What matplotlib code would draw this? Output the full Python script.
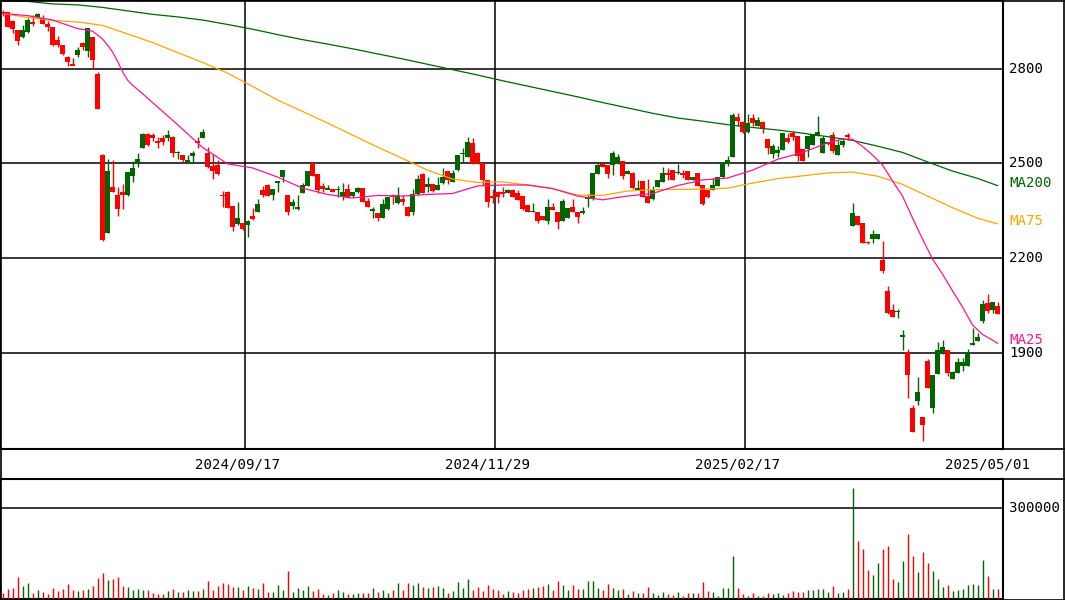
import matplotlib
matplotlib.use("Agg")
import matplotlib.pyplot as plt
from matplotlib.lines import Line2D
from matplotlib.transforms import blended_transform_factory
import numpy as np

# ---- daily OHLC (200 sessions, oldest first) ----
open_ = [2980, 2978, 2951, 2923, 2901, 2917, 2948, 2963, 2960, 2942,
         2933, 2891, 2875, 2836, 2813, 2843, 2880, 2857, 2899, 2783,
         2527, 2279, 2425, 2400, 2411, 2400, 2460, 2504, 2550, 2593,
         2590, 2571, 2580, 2582, 2585, 2532, 2527, 2501, 2525, 2569,
         2582, 2534, 2493, 2495, 2400, 2411, 2365, 2308, 2311, 2305,
         2334, 2347, 2416, 2432, 2400, 2440, 2458, 2400, 2367, 2355,
         2408, 2430, 2501, 2467, 2429, 2418, 2419, 2416, 2395, 2419,
         2397, 2409, 2421, 2381, 2351, 2342, 2328, 2355, 2397, 2374,
         2388, 2363, 2347, 2403, 2467, 2425, 2435, 2416, 2437, 2476,
         2442, 2479, 2530, 2522, 2566, 2534, 2501, 2448, 2395, 2409,
         2409, 2408, 2416, 2406, 2397, 2369, 2347, 2346, 2334, 2319,
         2361, 2347, 2319, 2328, 2361, 2346, 2342, 2387, 2387, 2467,
         2498, 2495, 2495, 2498, 2508, 2467, 2471, 2419, 2445, 2397,
         2387, 2427, 2442, 2467, 2479, 2469, 2469, 2476, 2448, 2469,
         2432, 2416, 2416, 2430, 2456, 2498, 2521, 2648, 2632, 2599,
         2645, 2620, 2632, 2578, 2529, 2532, 2543, 2582, 2597, 2587,
         2545, 2545, 2558, 2588, 2534, 2563, 2590, 2527, 2559, 2588,
         2302, 2334, 2311, 2252, 2260, 2261, 2194, 2096, 2036, 2031,
         1952, 1903, 1725, 1749, 1697, 1875, 1727, 1834, 1899, 1910,
         1818, 1838, 1859, 1859, 1928, 1939, 2003, 2058, 2036, 2049]
high = [2986, 2979, 2954, 2923, 2938, 2960, 2970, 2975, 2970, 2952,
        2933, 2903, 2875, 2840, 2834, 2868, 2885, 2928, 2901, 2791,
        2530, 2513, 2511, 2425, 2435, 2474, 2508, 2534, 2595, 2595,
        2597, 2585, 2590, 2606, 2587, 2538, 2528, 2527, 2540, 2585,
        2609, 2553, 2530, 2511, 2414, 2413, 2365, 2379, 2313, 2322,
        2358, 2388, 2430, 2434, 2420, 2443, 2481, 2401, 2387, 2400,
        2437, 2477, 2503, 2468, 2437, 2432, 2420, 2429, 2439, 2435,
        2411, 2427, 2422, 2391, 2361, 2343, 2388, 2395, 2402, 2425,
        2400, 2365, 2418, 2464, 2469, 2456, 2436, 2456, 2485, 2477,
        2479, 2528, 2548, 2583, 2580, 2536, 2502, 2449, 2418, 2412,
        2427, 2418, 2418, 2416, 2398, 2370, 2376, 2347, 2335, 2387,
        2375, 2348, 2388, 2360, 2387, 2347, 2361, 2403, 2470, 2502,
        2502, 2496, 2539, 2530, 2509, 2478, 2473, 2448, 2446, 2450,
        2429, 2449, 2488, 2485, 2480, 2498, 2479, 2477, 2457, 2470,
        2433, 2417, 2453, 2457, 2502, 2524, 2661, 2661, 2633, 2657,
        2657, 2648, 2633, 2579, 2562, 2555, 2598, 2596, 2603, 2588,
        2546, 2588, 2593, 2651, 2588, 2569, 2599, 2574, 2580, 2597,
        2376, 2335, 2312, 2256, 2290, 2278, 2255, 2112, 2055, 2039,
        1973, 1913, 1736, 1823, 1698, 1881, 1832, 1934, 1941, 1911,
        1842, 1885, 1885, 1913, 1980, 1964, 2068, 2087, 2062, 2061]
low = [2967, 2932, 2914, 2875, 2897, 2912, 2935, 2960, 2941, 2920,
       2873, 2870, 2843, 2810, 2811, 2836, 2859, 2836, 2798, 2673,
       2256, 2279, 2409, 2334, 2356, 2398, 2442, 2490, 2548, 2556,
       2571, 2550, 2557, 2572, 2521, 2513, 2501, 2500, 2501, 2550,
       2580, 2487, 2451, 2465, 2361, 2358, 2287, 2306, 2289, 2268,
       2321, 2346, 2393, 2396, 2385, 2411, 2440, 2337, 2355, 2353,
       2406, 2428, 2459, 2406, 2409, 2418, 2409, 2395, 2385, 2391,
       2395, 2408, 2377, 2361, 2328, 2319, 2327, 2353, 2371, 2372,
       2369, 2333, 2337, 2401, 2406, 2411, 2411, 2415, 2436, 2435,
       2440, 2477, 2506, 2521, 2499, 2499, 2432, 2361, 2374, 2376,
       2394, 2406, 2393, 2383, 2354, 2345, 2346, 2311, 2320, 2308,
       2352, 2293, 2318, 2327, 2346, 2313, 2341, 2363, 2386, 2466,
       2489, 2455, 2464, 2497, 2451, 2466, 2420, 2418, 2394, 2374,
       2385, 2426, 2441, 2448, 2447, 2468, 2454, 2447, 2447, 2429,
       2370, 2392, 2415, 2429, 2455, 2492, 2520, 2619, 2598, 2598,
       2620, 2619, 2596, 2530, 2516, 2520, 2542, 2566, 2574, 2509,
       2508, 2521, 2557, 2587, 2532, 2560, 2534, 2526, 2551, 2574,
       2302, 2304, 2248, 2245, 2249, 2260, 2155, 2025, 2014, 2010,
       1910, 1757, 1650, 1736, 1623, 1790, 1710, 1833, 1898, 1828,
       1817, 1837, 1843, 1858, 1927, 1938, 1996, 2028, 2028, 2023]
close = [2973, 2933, 2925, 2889, 2923, 2954, 2941, 2973, 2941, 2933,
         2875, 2875, 2847, 2822, 2811, 2859, 2870, 2928, 2828, 2673,
         2258, 2476, 2409, 2356, 2400, 2472, 2485, 2514, 2593, 2559,
         2580, 2566, 2569, 2590, 2532, 2537, 2511, 2511, 2534, 2567,
         2601, 2490, 2477, 2467, 2398, 2360, 2300, 2328, 2293, 2319,
         2324, 2372, 2400, 2398, 2419, 2442, 2480, 2346, 2379, 2362,
         2432, 2476, 2461, 2416, 2418, 2420, 2411, 2419, 2409, 2392,
         2409, 2421, 2379, 2363, 2353, 2328, 2372, 2393, 2395, 2400,
         2379, 2335, 2402, 2451, 2408, 2435, 2414, 2432, 2458, 2448,
         2469, 2527, 2532, 2567, 2501, 2501, 2448, 2379, 2393, 2395,
         2406, 2416, 2395, 2385, 2356, 2347, 2349, 2318, 2321, 2361,
         2353, 2316, 2381, 2358, 2347, 2332, 2350, 2395, 2469, 2495,
         2490, 2467, 2534, 2520, 2460, 2477, 2422, 2421, 2395, 2376,
         2416, 2448, 2469, 2465, 2448, 2474, 2466, 2448, 2456, 2430,
         2371, 2393, 2432, 2456, 2501, 2511, 2653, 2634, 2599, 2629,
         2629, 2638, 2608, 2550, 2555, 2543, 2597, 2567, 2585, 2524,
         2509, 2587, 2592, 2599, 2582, 2566, 2540, 2559, 2572, 2585,
         2344, 2305, 2249, 2249, 2277, 2277, 2160, 2026, 2015, 2033,
         1957, 1831, 1651, 1776, 1672, 1791, 1831, 1910, 1918, 1836,
         1841, 1871, 1871, 1904, 1931, 1952, 2055, 2034, 2061, 2024]
volume = [18600, 31800, 35000, 71200, 41600, 51500, 18600, 28500, 21900, 15300,
          35000, 25200, 31800, 48200, 28500, 25200, 28500, 31800, 41600, 67900,
          84300, 61300, 64600, 71200, 41600, 38300, 28500, 31800, 28500, 28500,
          18600, 15300, 15300, 25200, 31800, 21900, 21900, 28500, 25200, 25200,
          31800, 58000, 28500, 41600, 51500, 48200, 38300, 38300, 28500, 41600,
          35000, 31800, 51500, 21900, 21900, 44900, 28500, 90900, 21900, 35000,
          28500, 41600, 25200, 31800, 15300, 12000, 18600, 28500, 21900, 15300,
          15300, 18600, 18600, 18600, 35000, 21900, 28500, 18600, 28500, 51500,
          28500, 51500, 44900, 51500, 38300, 35000, 38300, 41600, 35000, 18600,
          25200, 54700, 35000, 64600, 28500, 38300, 25200, 44900, 31800, 28500,
          16500, 26500, 23200, 19900, 29800, 33100, 36400, 39700, 43000, 49600,
          29800, 59600, 46300, 29800, 46300, 33100, 33100, 59600, 59600, 36400,
          29800, 49600, 36400, 29800, 33100, 16500, 26500, 19900, 19900, 39700,
          19900, 13200, 23200, 16500, 13200, 23200, 9900, 19900, 19900, 19900,
          56300, 26500, 23200, 9900, 36400, 36400, 142300, 36400, 16500, 9900,
          19900, 9900, 9900, 19900, 16500, 19900, 13200, 19900, 26500, 23200,
          23200, 29800, 29800, 33100, 33100, 23200, 43000, 19900, 23200, 33100,
          364000, 191900, 165500, 96000, 79400, 119100, 165500, 175400, 66200, 56300,
          125700, 215100, 142300, 89300, 155500, 119100, 92700, 66200, 39700, 46300,
          26500, 29800, 33100, 46300, 49600, 46300, 129100, 76100, 33100, 33100]

# ---- moving averages ----
# 75- and 200-day lines sampled every 5 sessions plus the last one
ma_index = list(range(0, 200, 5)) + [199]
ma75 = [2975, 2962, 2953, 2948, 2937, 2910, 2883, 2851, 2820, 2786,
        2744, 2701, 2665, 2628, 2590, 2552, 2516, 2479, 2451, 2440,
        2442, 2432, 2420, 2400, 2399, 2413, 2417, 2418, 2419, 2422,
        2438, 2452, 2461, 2470, 2473, 2460, 2434, 2397, 2360, 2327, 2309]
ma200 = [3014, 3013, 3005, 3002, 2994, 2983, 2972, 2964, 2954, 2940,
         2925, 2908, 2892, 2878, 2863, 2847, 2831, 2814, 2797, 2780,
         2762, 2745, 2728, 2711, 2693, 2676, 2659, 2644, 2634, 2623,
         2614, 2606, 2596, 2585, 2573, 2555, 2535, 2505, 2476, 2453, 2430]
# 25-day line, sampled more densely where it bends sharply
ma25_index = [0, 5, 10, 15, 18, 20, 21, 22, 23, 24, 25, 26, 28, 30,
              35, 40, 45, 50, 55, 60, 65, 70, 75, 80, 85, 90, 95, 100,
              105, 110, 115, 120, 125, 130, 135, 140, 145, 150, 155, 160,
              165, 168, 170, 172, 174, 176, 178, 180, 182, 184, 186, 188,
              190, 192, 194, 196, 198, 199]
ma25 = [2975, 2968, 2954, 2927, 2919, 2894, 2875, 2853, 2824, 2791, 2764, 2748, 2721, 2693,
        2623, 2551, 2499, 2486, 2457, 2422, 2402, 2391, 2399, 2397, 2402, 2405, 2429, 2432,
        2432, 2421, 2397, 2385, 2397, 2405, 2430, 2448, 2454, 2479, 2513, 2535,
        2565, 2577, 2577, 2554, 2527, 2495, 2445, 2397, 2328, 2261, 2198, 2150,
        2097, 2046, 1989, 1959, 1941, 1931]

price_ticks = [1900, 2200, 2500, 2800]
volume_ticks = [300000]
date_index = [49, 99, 149, 199]
date_labels = ["2024/09/17", "2024/11/29", "2025/02/17", "2025/05/01"]

# ---- style ----
RED = "#ff0000"
GREEN = "#006400"
C_MA25 = "#ff1493"
C_MA75 = "#ffa500"
C_MA200 = "#006400"
FONT = "DejaVu Sans Mono"
FS = 10.2

W, H = 1065, 600
fig = plt.figure(figsize=(W / 100, H / 100), dpi=100)
fig.patch.set_facecolor("white")


def fx(px):
    return px / W


def fy(py):
    return 1 - py / H


ax = fig.add_axes([0, fy(449), fx(1003), 449 / H])
axv = fig.add_axes([0, fy(599), fx(1003), 120 / H])

o = np.array(open_, float)
h = np.array(high, float)
l = np.array(low, float)
c = np.array(close, float)
v = np.array(volume, float)
x = np.arange(len(c))
up = c >= o
cols = np.where(up, GREEN, RED)

# price panel
for t in price_ticks:
    ax.axhline(t, color="black", lw=1.1, zorder=1)
for d in date_index[:-1]:
    ax.axvline(d - 0.5, color="black", lw=1.1, zorder=1)

ax.vlines(x, l, h, colors=cols, lw=1.0, zorder=3)
body = np.abs(c - o)
min_body = 5.0
mid = (c + o) / 2
body_h = np.maximum(body, min_body)
body_bot = np.where(body < min_body, mid - min_body / 2, np.minimum(o, c))
ax.bar(x, body_h, bottom=body_bot, width=0.92, color=cols, linewidth=0, zorder=4)

ax.plot(ma_index, ma200, color=C_MA200, lw=0.9, zorder=5)
ax.plot(ma_index, ma75, color=C_MA75, lw=0.9, zorder=5)
ax.plot(ma25_index, ma25, color=C_MA25, lw=0.9, zorder=5)

ax.set_xlim(-0.5, 200.1)
ax.set_ylim(1596.5, 3017.4)
ax.set_xticks([])
ax.set_yticks([])
for s in ax.spines.values():
    s.set_linewidth(1.5)
    s.set_color("black")

tr = blended_transform_factory(fig.transFigure, ax.transData)
for t in price_ticks:
    ax.text(fx(1009), t, str(t), transform=tr, fontsize=FS, family=FONT,
            va="center", ha="left", color="black")
# MA names sit just above the end of each line
lab_lift = 9
ax.text(fx(1009), ma200[-1] + lab_lift, "MA200", transform=tr, fontsize=FS,
        family=FONT, va="center", ha="left", color=C_MA200)
ax.text(fx(1009), ma75[-1] + lab_lift, "MA75", transform=tr, fontsize=FS,
        family=FONT, va="center", ha="left", color=C_MA75)
ax.text(fx(1009), ma25[-1] + lab_lift, "MA25", transform=tr, fontsize=FS,
        family=FONT, va="center", ha="left", color=C_MA25)

# date labels
trd = blended_transform_factory(ax.transData, fig.transFigure)
for d, lab in zip(date_index, date_labels):
    ax.text(d - 2, fy(464), lab, transform=trd, fontsize=FS, family=FONT,
            ha="center", va="center", color="black", clip_on=False)

# volume panel
for t in volume_ticks:
    axv.axhline(t, color="black", lw=1.1, zorder=1)
axv.vlines(x, 0, v, colors=cols, lw=1.0, zorder=3)
axv.set_xlim(-0.5, 200.1)
axv.set_ylim(0, 395000)
axv.set_xticks([])
axv.set_yticks([])
for s in axv.spines.values():
    s.set_linewidth(1.5)
    s.set_color("black")
trv = blended_transform_factory(fig.transFigure, axv.transData)
for t in volume_ticks:
    axv.text(fx(1009), t, str(t), transform=trv, fontsize=FS, family=FONT,
             va="center", ha="left", color="black")

# outer frame and band separators
for (x0, y0, x1, y1) in [(0.5, 0.5, 1064, 0.5), (0.5, 599.5, 1064, 599.5),
                         (0.5, 0.5, 0.5, 599.5), (1063.5, 0.5, 1063.5, 599.5),
                         (0.5, 449, 1064, 449), (0.5, 479, 1064, 479)]:
    fig.add_artist(Line2D([fx(x0), fx(x1)], [fy(y0), fy(y1)],
                          transform=fig.transFigure, color="black", lw=1.2))

fig.savefig("out.png", dpi=100, facecolor="white")
